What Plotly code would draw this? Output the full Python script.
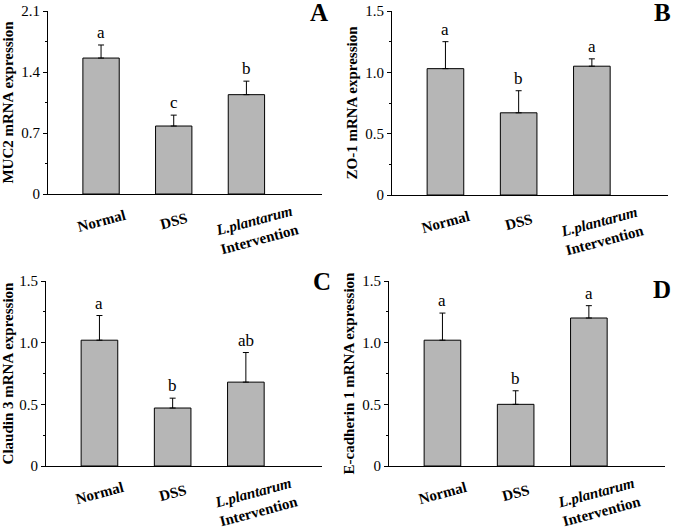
import plotly.graph_objects as go

categories = ["Normal", "DSS", "L.plantarum Intervention"]
cat_labels = ["<b>Normal</b>", "<b>DSS</b>", "<b><i>L.plantarum</i></b><br><b>Intervention</b>"]

muc2 = [1.56, 0.78, 1.14]
muc2_err = [0.15, 0.125, 0.155]
muc2_sig = ["a", "c", "b"]

zo1 = [1.03, 0.67, 1.05]
zo1_err = [0.22, 0.18, 0.06]
zo1_sig = ["a", "b", "a"]

cldn3 = [1.02, 0.47, 0.68]
cldn3_err = [0.20, 0.08, 0.24]
cldn3_sig = ["a", "b", "ab"]

ecad = [1.02, 0.50, 1.20]
ecad_err = [0.22, 0.11, 0.10]
ecad_sig = ["a", "b", "a"]

ytitles = ["MUC2 mRNA expression", "ZO-1 mRNA expression",
           "Claudin 3 mRNA expression", "E-cadherin 1 mRNA expression"]
panel_letters = ["A", "B", "C", "D"]

ticks_a = [0, 0.7, 1.4, 2.1]
ticktext_a = ["0", "0.7", "1.4", "2.1"]
minor_a = [0.35, 1.05, 1.75]
ticks_b = [0, 0.5, 1.0, 1.5]
ticktext_b = ["0", "0.5", "1.0", "1.5"]
minor_b = [0.25, 0.75, 1.25]

panels = [
    (muc2, muc2_err, muc2_sig, ticks_a, ticktext_a, minor_a, 2.1),
    (zo1, zo1_err, zo1_sig, ticks_b, ticktext_b, minor_b, 1.5),
    (cldn3, cldn3_err, cldn3_sig, ticks_b, ticktext_b, minor_b, 1.5),
    (ecad, ecad_err, ecad_sig, ticks_b, ticktext_b, minor_b, 1.5),
]

W, H = 675, 530
# pixel boxes: (x_axis_left, x_axis_right, y_top, y_zero)
boxes = [(48, 322, 11, 194), (392, 668, 11, 195), (46, 322, 281, 466), (389, 665, 281, 466)]
# right edge x, center y of panel letters
letter_pos = [(329, 13), (672, 13), (332, 281), (672, 289)]

FONT = "Liberation Serif"
fig = go.Figure()
annotations = []

for i, (vals, errs, sigs, tv, tt, mv, ymax) in enumerate(panels):
    n = i + 1
    xa = "x" if n == 1 else f"x{n}"
    ya = "y" if n == 1 else f"y{n}"
    xl, xr, yt, yz = boxes[i]
    fig.add_trace(go.Bar(
        x=[0, 1, 2], y=vals, width=0.5, xaxis=xa, yaxis=ya,
        marker=dict(color="#b6b6b6", line=dict(color="black", width=1)),
        error_y=dict(type="data", array=errs, arrayminus=[0] * len(errs), symmetric=False,
                     color="black", thickness=1, width=3),
        showlegend=False, hoverinfo="skip",
    ))
    xkey = "xaxis" if n == 1 else f"xaxis{n}"
    ykey = "yaxis" if n == 1 else f"yaxis{n}"
    fig.layout[xkey] = dict(
        domain=[xl / W, xr / W], anchor=ya, range=[-0.73, 3.04],
        showline=True, linecolor="black", linewidth=1, showgrid=False,
        zeroline=False, ticks="", showticklabels=False, fixedrange=True,
        automargin=False,
    )
    fig.layout[ykey] = dict(
        domain=[1 - yz / H, 1 - yt / H], anchor=xa, range=[0, ymax],
        showline=True, linecolor="black", linewidth=1, showgrid=False, zeroline=False,
        tickmode="array", tickvals=tv, ticktext=tt, ticks="outside", ticklen=4,
        tickcolor="black", tickwidth=1,
        minor=dict(tickmode="array", tickvals=mv, ticks="outside", ticklen=2,
                   tickcolor="black", tickwidth=1),
        tickfont=dict(family=FONT, size=15, color="black"),
        title=dict(text=f"<b>{ytitles[i]}</b>", font=dict(family=FONT, size=15, color="black"),
                   standoff=4),
        fixedrange=True, automargin=False,
    )
    for j, (v, e, s) in enumerate(zip(vals, errs, sigs)):
        annotations.append(dict(x=j, y=v + e, xref=xa, yref=ya, text=s, showarrow=False,
                                yanchor="bottom", yshift=1,
                                font=dict(family=FONT, size=17, color="black")))
    for j, lab in enumerate(cat_labels):
        two = "<br>" in lab
        annotations.append(dict(x=j + (0.15 if two else 0), y=-(36 if two else 27) / (yz - yt),
                                xref=xa, yref=f"{ya} domain", text=lab, showarrow=False,
                                textangle=-15, xanchor="center", yanchor="middle",
                                font=dict(family=FONT, size=15, color="black")))
    lx, ly = letter_pos[i]
    annotations.append(dict(x=lx / W, y=1 - ly / H, xref="paper", yref="paper",
                            text=f"<b>{panel_letters[i]}</b>", showarrow=False,
                            xanchor="right", yanchor="middle", borderpad=0,
                            font=dict(family=FONT, size=25, color="black")))

fig.update_layout(
    template="none",
    width=W, height=H, margin=dict(l=0, r=0, t=0, b=0, autoexpand=False),
    paper_bgcolor="white", plot_bgcolor="white",
    annotations=annotations, bargap=0.5,
    font=dict(family=FONT, color="black"),
)
fig.write_html("out.html", config={"displayModeBar": False},
               post_script="document.body.style.margin='0px';document.body.style.overflow='hidden';")
